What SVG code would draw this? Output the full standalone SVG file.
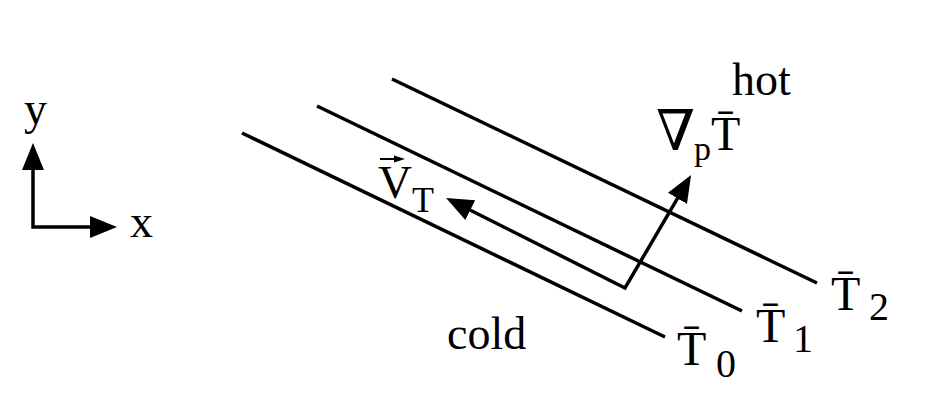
<svg xmlns="http://www.w3.org/2000/svg" width="937" height="413" viewBox="0 0 937 413">
<style>
.ln{fill:none;stroke:#000;stroke-width:3.5;stroke-linejoin:miter}
.t{font-family:"Liberation Serif","Times New Roman",serif;fill:#000}
.big{font-size:46px}
.sub{font-size:40px}
</style>
<defs>
<marker id="ah" markerUnits="userSpaceOnUse" markerWidth="28" markerHeight="24" refX="7" refY="11" orient="auto-start-reverse" viewBox="0 0 28 22">
<path d="M0,0 L27,11 L0,22 Z" fill="#000"/>
</marker>
<marker id="vah" markerUnits="userSpaceOnUse" markerWidth="12" markerHeight="8" refX="4" refY="3.5" orient="auto" viewBox="0 0 12 7">
<path d="M0,0 L11,3.5 L0,7 Z" fill="#000"/>
</marker>
</defs>
<rect width="937" height="413" fill="#fff"/>
<g id="axes">
<polyline class="ln" points="33,163 33,227 97,227" marker-start="url(#ah)" marker-end="url(#ah)"/>
<text class="t big" x="24" y="124">y</text>
<text class="t big" x="130" y="237">x</text>
</g>
<g id="isotherms">
<line class="ln" x1="242" y1="133" x2="665" y2="337"/>
<line class="ln" x1="317" y1="106" x2="742" y2="311"/>
<line class="ln" x1="392" y1="79" x2="817" y2="283"/>
</g>
<g id="connectors">
<polyline class="ln" points="464,207 625,288 681,192.3" marker-start="url(#ah)" marker-end="url(#ah)"/>
</g>
<g id="labels">
<text class="t big" x="732" y="95">hot</text>
<text class="t big" x="447" y="349">cold</text>
<g id="gradT">
<text style="font-family:'DejaVu Serif',serif;font-size:56px" x="656" y="150">∇</text>
<text class="t" style="font-size:34px" x="694" y="160">p</text>
<text class="t" style="font-size:48px" x="711" y="150">T̄</text>
</g>
<g id="VT">
<text class="t" style="font-size:47px" x="378" y="198">V</text>
<line x1="380" y1="159" x2="398" y2="159" stroke="#000" stroke-width="2" marker-end="url(#vah)"/>
<text class="t" style="font-size:36px" x="412" y="212">T</text>
</g>
<g id="T0">
<text class="t" style="font-size:48px" x="677" y="365">T̄</text>
<text class="t sub" x="716" y="377">0</text>
</g>
<g id="T1">
<text class="t" style="font-size:48px" x="756" y="342">T̄</text>
<text class="t sub" x="793" y="352">1</text>
</g>
<g id="T2">
<text class="t" style="font-size:48px" x="831" y="310">T̄</text>
<text class="t sub" x="869" y="320">2</text>
</g>
</g>
</svg>
